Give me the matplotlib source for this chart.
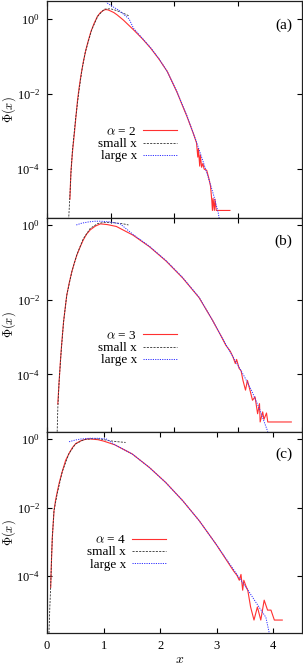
"""Phi(x) for alpha = 2, 3, 4: simulation vs small-x and large-x asymptotes."""

import numpy as np
import matplotlib
matplotlib.use('Agg')
import matplotlib.pyplot as plt

# ---- data (x, log10 Phi) ----
# panel (a), alpha = 2
a_red_x = [0.36, 0.375, 0.40, 0.43, 0.455, 0.48, 0.505, 0.53, 0.57, 0.61, 0.65, 0.69, 0.74,
           0.79, 0.84, 0.88, 0.92, 0.96, 1.00, 1.05, 1.10, 1.20, 1.36, 1.50, 1.63, 1.76,
           1.89, 2.04, 2.20, 2.30, 2.35, 2.37, 2.38, 2.40, 2.41, 2.43, 2.45, 2.47, 2.51,
           2.54, 2.57, 2.59, 2.60, 2.61, 2.63, 2.64, 2.66, 2.69, 2.72, 2.875]
a_red_log = [-4.8, -4.1, -3.55, -3.05, -2.6, -2.16, -1.83, -1.54, -1.15, -0.83, -0.57, -0.34,
             -0.12, 0.06, 0.17, 0.22, 0.25, 0.24, 0.21, 0.17, 0.11, -0.03, -0.29, -0.53,
             -0.78, -1.07, -1.40, -1.94, -2.60, -3.05, -3.30, -3.68, -3.45, -3.92, -3.62,
             -3.95, -3.85, -4.0, -4.03, -4.22, -4.45, -4.83, -5.1, -4.78, -5.1, -4.8, -5.1,
             -5.1, -5.1, -5.1]
a_small_x = [0.34, 0.36, 0.38, 0.40, 0.45, 0.50, 0.55, 0.60, 0.70, 0.80, 0.90, 1.00, 1.10,
             1.20, 1.29]
a_small_log = [-5.35, -4.7, -4.0, -3.5, -2.65, -1.95, -1.35, -0.9, -0.3, 0.08, 0.26, 0.27,
               0.22, 0.15, 0.08]
a_large_x = [0.90, 0.95, 1.05, 1.13, 1.29, 1.36, 1.50, 1.63, 1.76, 1.89, 2.04, 2.20, 2.35,
             2.45, 2.55, 2.62, 2.69, 2.71]
a_large_log = [0.52, 0.42, 0.31, 0.23, 0.0, -0.25, -0.52, -0.77, -1.06, -1.40, -1.93, -2.58,
               -3.28, -3.78, -4.3, -4.7, -5.15, -5.35]

# panel (b), alpha = 3
b_red_x = [0.17, 0.19, 0.21, 0.23, 0.26, 0.31, 0.35, 0.39, 0.43, 0.47, 0.52, 0.57, 0.62,
           0.68, 0.76, 0.84, 0.95, 1.09, 1.35, 1.61, 1.87, 2.13, 2.39, 2.60, 2.75, 2.81,
           2.88, 2.92, 2.96, 2.98, 3.02, 3.05, 3.08, 3.12, 3.15, 3.19, 3.23, 3.27, 3.31,
           3.34, 3.35, 3.39, 3.41, 3.45, 3.47, 3.84]
b_red_log = [-4.79, -4.2, -3.67, -3.2, -2.6, -1.89, -1.55, -1.26, -1.02, -0.81, -0.6, -0.41,
             -0.26, -0.14, -0.04, 0.02, 0.0, -0.05, -0.28, -0.59, -0.97, -1.42, -1.95, -2.55,
             -3.02, -3.22, -3.38, -3.52, -3.71, -3.6, -3.84, -3.9, -4.16, -4.42, -4.16,
             -4.42, -4.69, -4.6, -5.05, -4.78, -5.27, -5.0, -5.2, -5.03, -5.27, -5.27]
b_small_x = [0.16, 0.17, 0.19, 0.22, 0.26, 0.31, 0.39, 0.47, 0.57, 0.68, 0.80, 0.90, 1.00,
             1.10, 1.20, 1.28]
b_small_log = [-5.53, -4.9, -4.2, -3.45, -2.6, -1.89, -1.26, -0.8, -0.38, -0.1, 0.03, 0.06,
               0.06, 0.04, 0.02, -0.01]
b_large_x = [0.46, 0.55, 0.65, 0.75, 0.85, 0.99, 1.15, 1.35, 1.61, 1.87, 2.13, 2.39, 2.60,
             2.81, 2.97, 3.10, 3.22, 3.34, 3.47]
b_large_log = [-0.01, 0.04, 0.07, 0.09, 0.09, 0.07, 0.02, -0.26, -0.58, -0.96, -1.41, -1.94,
               -2.55, -3.2, -3.67, -4.05, -4.45, -4.92, -5.53]

# panel (c), alpha = 4
c_red_x = [0.065, 0.08, 0.094, 0.124, 0.15, 0.18, 0.22, 0.27, 0.33, 0.39, 0.45, 0.51, 0.60,
           0.70, 0.77, 0.90, 1.00, 1.20, 1.51, 1.81, 2.10, 2.40, 2.69, 2.99, 3.22, 3.30,
           3.36, 3.40, 3.43, 3.46, 3.48, 3.52, 3.55, 3.60, 3.66, 3.72, 3.78, 3.84, 3.90,
           3.96, 4.02, 4.16]
c_red_log = [-4.33, -3.5, -2.87, -2.09, -1.8, -1.55, -1.25, -0.95, -0.62, -0.42, -0.25,
             -0.13, -0.05, 0.0, 0.0, -0.02, -0.06, -0.17, -0.44, -0.83, -1.27, -1.80, -2.38,
             -3.07, -3.65, -3.85, -3.98, -4.12, -3.95, -4.41, -4.12, -4.3, -4.41, -4.9,
             -5.28, -4.9, -5.28, -4.7, -4.99, -4.99, -5.28, -5.28]
c_small_x = [0.035, 0.05, 0.065, 0.08, 0.094, 0.124, 0.18, 0.27, 0.39, 0.50, 0.65, 0.80,
             0.95, 1.10, 1.25, 1.39]
c_small_log = [-5.66, -4.9, -4.3, -3.5, -2.87, -2.09, -1.6, -0.95, -0.42, -0.15, -0.02, 0.01,
               0.0, -0.05, -0.08, -0.1]
c_large_x = [0.39, 0.50, 0.60, 0.75, 0.92, 1.05, 1.20, 1.51, 1.81, 2.10, 2.40, 2.69, 2.99,
             3.22, 3.40, 3.55, 3.70, 3.87, 3.93]
c_large_log = [-0.08, -0.03, 0.0, 0.02, 0.02, 0.0, -0.17, -0.44, -0.83, -1.27, -1.80, -2.38,
               -3.07, -3.62, -4.05, -4.4, -4.78, -5.2, -5.66]

alphas = [2, 3, 4]
panel_tags = ['(a)', '(b)', '(c)']

plt.rcParams.update({
    'font.family': ['Liberation Serif', 'DejaVu Serif'],
    'mathtext.fontset': 'cm',
    'font.size': 9,
    'axes.linewidth': 0.9,
    'axes.edgecolor': '#202020',
})

fig = plt.figure(figsize=(3.03, 6.66), dpi=100)
L, W = 47 / 303, 254.5 / 303
# (bottom, height) in figure fraction, top to bottom
boxes = [(1 - 218 / 666, 217 / 666), (1 - 432 / 666, 214 / 666), (1 - 633 / 666, 201 / 666)]
xlims = [(0, 4), (0, 4), (0, 4.5)]
ylims = [(5e-6, 3.0), (2.9e-6, 1.5), (2.2e-6, 1.6)]
legend_anchor = [(0.511, 0.425), (0.511, 0.478), (0.468, 0.493)]

series = [
    (a_red_x, a_red_log, a_small_x, a_small_log, a_large_x, a_large_log),
    (b_red_x, b_red_log, b_small_x, b_small_log, b_large_x, b_large_log),
    (c_red_x, c_red_log, c_small_x, c_small_log, c_large_x, c_large_log),
]

for i, (rx, ry, sx, sy, lx, ly) in enumerate(series):
    bot, h = boxes[i]
    ax = fig.add_axes([L, bot, W, h])
    ax.set_yscale('log')
    ax.plot(rx, 10 ** np.array(ry), color='#ff3030', lw=0.8,
            label=r'$\alpha$ = %d' % alphas[i])
    ax.plot(sx, 10 ** np.array(sy), color='#303030', lw=0.6, ls=(0, (2.5, 1.5)),
            label='small x')
    ax.plot(lx, 10 ** np.array(ly), color='#3030ff', lw=0.7, ls=(0, (1.2, 1.2)),
            label='large x')
    ax.set_xlim(*xlims[i])
    ax.set_ylim(*ylims[i])
    ax.set_yticks([1, 1e-2, 1e-4])
    ax.minorticks_off()
    ax.set_xticks([0, 1, 2, 3, 4])
    ax.tick_params(which='both', direction='in', length=3.5, width=0.8,
                   top=True, right=True, labelsize=9, pad=5)
    if i < 2:
        ax.tick_params(labelbottom=False)
    else:
        ax.set_xlabel(r'$x$', fontsize=10)
        ax.xaxis.set_label_coords(0.52, -0.1)
    ax.set_ylabel(r'$\Phi(x)$', fontsize=9)
    ax.yaxis.set_label_coords(-0.113, 0.5)
    ax.text(0.965, 0.89, panel_tags[i], transform=ax.transAxes, ha='right', va='center',
            fontsize=11)
    leg = ax.legend(loc='upper right', bbox_to_anchor=legend_anchor[i], frameon=False,
                    markerfirst=False, fontsize=9.5, handlelength=2.6, handletextpad=0.45,
                    labelspacing=0.0, borderpad=0, borderaxespad=0)

fig.savefig('out.png', dpi=100)
